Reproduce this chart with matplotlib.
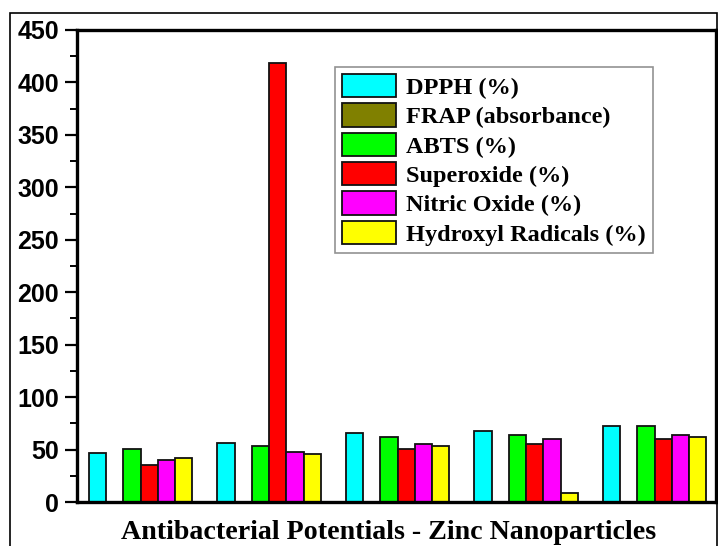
import numpy as np
import matplotlib
matplotlib.use('Agg')
import matplotlib.pyplot as plt
from matplotlib.patches import Rectangle
from matplotlib.ticker import MultipleLocator

# values (5 samples, no labels on x axis)
series = ['DPPH (%)', 'FRAP (absorbance)', 'ABTS (%)', 'Superoxide (%)',
          'Nitric Oxide (%)', 'Hydroxyl Radicals (%)']
colors = ['#00FFFF', '#808000', '#00FF00', '#FF0000', '#FF00FF', '#FFFF00']

dpph = [47, 56, 65.5, 67.7, 72.2]
frap = [0, 0, 0, 0, 0]
abts = [51, 53.7, 61.7, 64.2, 72.2]
superoxide = [35, 418.5, 50.5, 55.3, 59.8]
nitric = [40, 47.4, 55, 60.4, 63.6]
hydroxyl = [41.6, 45.5, 53.7, 8.3, 61.7]
values = [dpph, frap, abts, superoxide, nitric, hydroxyl]

fig = plt.figure(figsize=(7.18, 5.46), dpi=100)
ax = fig.add_axes([77/718, 1-502/546, (716-77)/718, (502-30)/546])

x = np.arange(len(dpph))
w = 0.134
for j, (name, vals, c) in enumerate(zip(series, values, colors)):
    ax.bar(x + (j - 2.5) * w, vals, w, align='center', color=c,
           edgecolor='#111111', linewidth=1.3, label=name)

ax.set_xlim(-0.495, 4.478)
ax.set_ylim(0, 450)
ax.yaxis.set_major_locator(MultipleLocator(50))
ax.yaxis.set_minor_locator(MultipleLocator(25))
ax.set_xticks([])
ax.tick_params(axis='y', which='major', direction='out', length=9, width=1.6,
               pad=4, labelsize=18)
ax.tick_params(axis='y', which='minor', direction='out', length=5, width=1.4)
for lbl in ax.get_yticklabels():
    lbl.set_fontfamily('Liberation Sans')
    lbl.set_fontweight('bold')
for s in ax.spines.values():
    s.set_linewidth(2.4)

ax.set_xlabel('Antibacterial Potentials - Zinc Nanoparticles',
              fontfamily='Liberation Serif', fontweight='bold', fontsize=20.2,
              va='baseline')
ax.xaxis.set_label_coords(0.487, -0.0784)

leg = ax.legend(loc='upper left', bbox_to_anchor=(0.404, 0.922),
                prop={'family': 'Liberation Serif', 'weight': 'bold', 'size': 17.5},
                fancybox=False, frameon=True, edgecolor='#777777',
                handlelength=2.2, handleheight=1.1, handletextpad=0.4,
                labelspacing=0.18, borderpad=0.3, borderaxespad=0)
leg.get_frame().set_linewidth(1.2)

# outer frame around the whole picture
fig.patches.append(Rectangle((10/718, -0.05), 707/718, 1.05 - 13/546,
                             transform=fig.transFigure, fill=False,
                             edgecolor='black', linewidth=1.2))

fig.savefig('out.png', dpi=100)
